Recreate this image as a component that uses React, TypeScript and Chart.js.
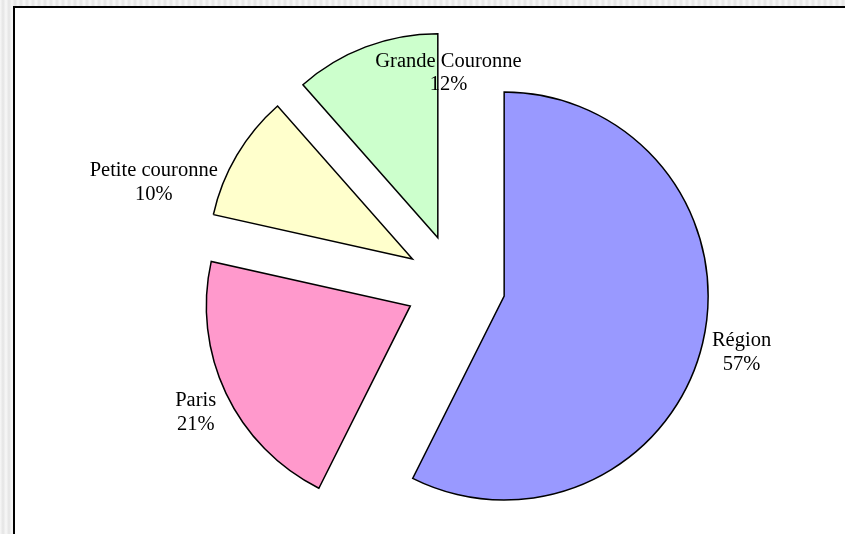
import React, { useEffect, useRef } from "react";
import { Chart, registerables } from "chart.js";

Chart.register(...registerables);

const CATEGORIES = ["Région", "Paris", "Petite couronne", "Grande Couronne"];
const VALUES = [57.4, 21.1, 10.0, 11.5];
const COLORS = ["#9999FF", "#FF99CC", "#FFFFCC", "#CCFFCC"];

// label placement relative to each slice (degrees / px)
const LABEL_ANGLE_SHIFT = [-0.2, -0.6, -11.7, 18.8];
const LABEL_GAP = [39.7, 35, 65, -41];
const EXPLODE = 50;
const RADIUS = 204;

const explodePlugin = {
  id: "explodeLabels",
  beforeDatasetsDraw(chart: any) {
    const meta = chart.getDatasetMeta(0);
    meta.data.forEach((arc: any) => {
      const mid = (arc.startAngle + arc.endAngle) / 2;
      arc._ox = arc.x;
      arc._oy = arc.y;
      arc.x = arc._ox + Math.cos(mid) * EXPLODE;
      arc.y = arc._oy + Math.sin(mid) * EXPLODE;
    });
  },
  afterDatasetsDraw(chart: any) {
    const meta = chart.getDatasetMeta(0);
    const ctx = chart.ctx;
    const total = VALUES.reduce((a, b) => a + b, 0);
    ctx.save();
    ctx.font = '20.5px "Liberation Serif", "Times New Roman", serif';
    ctx.fillStyle = "#000";
    ctx.textAlign = "center";
    ctx.textBaseline = "alphabetic";
    meta.data.forEach((arc: any, i: number) => {
      arc.x = arc._ox;
      arc.y = arc._oy;
      const mid =
        (arc.startAngle + arc.endAngle) / 2 + (LABEL_ANGLE_SHIFT[i] * Math.PI) / 180;
      const r = arc.outerRadius + EXPLODE + LABEL_GAP[i];
      const cx = arc.x + Math.cos(mid) * r;
      const cy = arc.y + Math.sin(mid) * r;
      const pct = Math.round(Math.round((VALUES[i] / total) * 1000) / 10);
      ctx.fillText(CATEGORIES[i], cx, cy - 5);
      ctx.fillText(pct + "%", cx, cy + 18.5);
    });
    ctx.restore();
  },
};

export default function App() {
  const ref = useRef<HTMLCanvasElement | null>(null);

  useEffect(() => {
    if (!ref.current) return;
    const chart = new Chart(ref.current, {
      type: "pie",
      data: {
        labels: CATEGORIES,
        datasets: [
          {
            data: VALUES,
            backgroundColor: COLORS,
            borderColor: "#000000",
            borderWidth: 1.5,
            borderJoinStyle: "miter" as any,
          },
        ],
      },
      options: {
        responsive: false,
        animation: false,
        events: [],
        radius: RADIUS,
        layout: { padding: { left: 66, top: 35, right: 0, bottom: 0 } },
        plugins: {
          legend: { display: false },
          tooltip: { enabled: false },
        },
      } as any,
      plugins: [explodePlugin],
    });
    return () => chart.destroy();
  }, []);

  return (
    <div
      style={{
        position: "fixed",
        left: 0,
        top: 0,
        width: 845,
        height: 534,
        overflow: "hidden",
        background:
          "repeating-linear-gradient(90deg, #f8f8f8 0px, #e4e4e4 3px, #f8f8f8 6px)",
      }}
    >
      <div
        style={{
          position: "absolute",
          left: 13,
          top: 6,
          width: 860,
          height: 560,
          background: "#ffffff",
          border: "2px solid #000",
          boxSizing: "border-box",
        }}
      />
      <canvas
        ref={ref}
        width={845}
        height={534}
        style={{ position: "absolute", left: 0, top: 0, width: 845, height: 534 }}
      />
    </div>
  );
}
